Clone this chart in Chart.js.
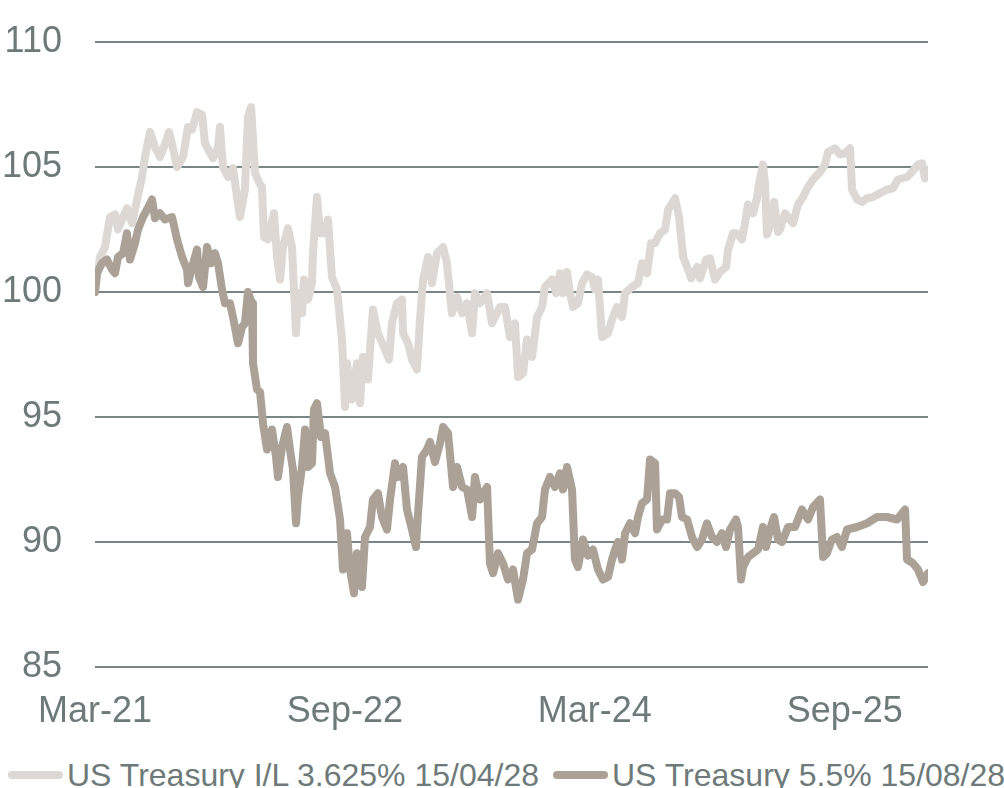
<!DOCTYPE html>
<html>
<head>
<meta charset="utf-8">
<script src="https://cdn.jsdelivr.net/npm/chart.js@4.4.1/dist/chart.umd.min.js"></script>
<style>
  html, body { margin: 0; padding: 0; background: #fff; overflow: hidden; }
  #page { position: relative; width: 1004px; height: 788px; overflow: hidden; }
  #box { position: absolute; left: 0; top: 0; width: 1004px; height: 740px; }
  #legend {
    position: absolute; left: 8px; top: 759px;
    display: flex; align-items: center; white-space: nowrap;
    font-family: "Liberation Sans", Arial, sans-serif;
    font-size: 32px; line-height: 32px; color: #6e7a79;
  }
  .item { display: flex; align-items: center; margin-right: 14px; }
  .swatch { width: 55px; height: 8px; border-radius: 4px; margin-right: 4px; }
</style>
</head>
<body>
<div id="page">
  <div id="box"><canvas id="chart"></canvas></div>
  <div id="legend"></div>
</div>
<script>
// months since Mar-21 for each reading
const tickMonths = [0, 18, 36, 54];
const tickLabels = ['Mar-21', 'Sep-22', 'Mar-24', 'Sep-25'];

const ilName = 'US Treasury I/L 3.625% 15/04/28';
const ilMonths = [0, 0.36, 0.72, 1.08, 1.44, 1.66, 2.02, 2.30, 2.67, 3.03,
  3.39, 3.60, 3.96, 4.32, 4.68, 5.04, 5.33, 5.62, 5.91, 6.34,
  6.70, 6.99, 7.35, 7.71, 7.92, 8.50, 8.86, 9.00, 9.22, 9.58,
  9.94, 10.23, 10.44, 10.80, 11.02, 11.24, 11.53, 11.89, 12.03, 12.17,
  12.46, 12.89, 13.11, 13.33, 13.54, 13.90, 14.19, 14.48, 14.62, 14.91,
  15.05, 15.34, 15.63, 15.70, 15.99, 16.21, 16.57, 16.78, 17.07, 17.43,
  17.79, 18.01, 18.15, 18.51, 18.87, 19.09, 19.30, 19.66, 20.02, 20.38,
  20.89, 21.18, 21.39, 21.75, 22.11, 22.19, 22.55, 22.83, 23.19, 23.41,
  23.63, 23.99, 24.27, 24.63, 25.07, 25.35, 25.71, 26.08, 26.44, 26.80,
  27.16, 27.37, 27.73, 28.24, 28.60, 29.17, 29.53, 29.89, 30.25, 30.47,
  30.83, 31.12, 31.48, 31.84, 32.20, 32.41, 32.92, 33.21, 33.49, 33.71,
  34.00, 34.21, 34.43, 34.79, 35.08, 35.44, 35.80, 36.02, 36.23, 36.52,
  36.95, 37.24, 37.60, 37.96, 38.18, 38.68, 39.11, 39.40, 39.76, 40.05,
  40.34, 40.70, 41.06, 41.28, 41.78, 42.07, 42.36, 42.65, 42.94, 43.37,
  43.58, 44.02, 44.30, 44.66, 45.02, 45.45, 45.60, 45.96, 46.24, 46.60,
  46.82, 47.04, 47.40, 47.68, 47.83, 48.11, 48.26, 48.40, 48.69, 48.91,
  49.20, 49.34, 49.70, 50.28, 50.64, 51.00, 51.36, 51.72, 52.22, 52.58,
  52.80, 53.30, 53.66, 54.02, 54.38, 54.53, 54.89, 55.25, 55.61, 56.04,
  56.54, 57.05, 57.48, 57.84, 58.49, 58.92, 59.28, 59.57, 59.78, 60.0];
const ilPrices = [100.0, 101.4, 101.8, 103.0, 103.1, 102.5, 103.0, 103.35, 102.75, 103.7,
  104.6, 105.4, 106.4, 105.8, 105.4, 105.9, 106.4, 105.75, 105.0, 105.4,
  106.6, 106.5, 107.2, 107.1, 105.95, 105.35, 105.8, 106.6, 105.0, 104.6,
  104.95, 103.8, 103.0, 104.1, 107.0, 107.4, 104.75, 104.3, 104.2, 102.2,
  102.1, 103.15, 101.4, 100.5, 101.8, 102.55, 101.8, 98.35, 99.95, 99.15,
  100.5, 99.7, 100.35, 101.55, 103.8, 102.35, 102.35, 102.9, 100.6, 100.1,
  98.1, 95.4, 97.15, 95.7, 97.15, 95.55, 97.4, 96.5, 99.3, 98.35,
  97.7, 97.3, 98.75, 99.55, 99.7, 98.35, 97.95, 97.3, 96.9, 98.9,
  100.5, 101.4, 100.35, 101.55, 101.8, 101.15, 99.15, 99.8, 99.15, 99.55,
  98.35, 99.95, 99.55, 99.95, 98.75, 99.4, 99.4, 98.2, 98.75, 96.6,
  96.75, 98.1, 97.4, 99.0, 99.4, 100.2, 100.5, 99.95, 100.75, 99.95,
  100.8, 99.95, 99.4, 99.55, 100.35, 100.7, 100.6, 100.1, 100.5, 98.2,
  98.35, 98.9, 99.4, 99.0, 99.95, 100.2, 100.35, 101.15, 100.75, 101.95,
  101.95, 102.35, 102.5, 103.3, 103.75, 103.0, 101.4, 101.0, 100.55, 101.0,
  100.55, 101.3, 101.35, 100.5, 100.8, 101.0, 101.7, 102.35, 102.35, 102.1,
  102.75, 103.5, 103.15, 103.75, 104.35, 105.1, 104.35, 102.3, 102.75, 103.6,
  102.4, 102.5, 103.15, 102.75, 103.5, 103.8, 104.2, 104.5, 104.8, 105.1,
  105.6, 105.75, 105.5, 105.55, 105.75, 104.1, 103.7, 103.6, 103.75, 103.8,
  103.95, 104.1, 104.15, 104.5, 104.6, 104.85, 105.1, 105.15, 104.55, 104.9];

const nomName = 'US Treasury 5.5% 15/08/28';
const nomMonths = [0, 0.14, 0.50, 0.86, 1.22, 1.44, 1.66, 2.02, 2.30, 2.52,
  2.88, 3.10, 3.46, 3.75, 4.11, 4.32, 4.68, 5.04, 5.55, 5.91,
  6.27, 6.63, 6.70, 6.99, 7.35, 7.49, 7.78, 8.07, 8.36, 8.64,
  8.86, 9.15, 9.36, 9.72, 9.94, 10.30, 10.59, 10.80, 11.02, 11.31,
  11.38, 11.67, 11.89, 12.10, 12.39, 12.75, 13.04, 13.18, 13.47, 13.83,
  14.12, 14.26, 14.48, 14.62, 14.91, 15.13, 15.34, 15.63, 15.77, 15.99,
  16.28, 16.57, 16.93, 17.29, 17.65, 17.86, 18.15, 18.37, 18.66, 18.87,
  19.23, 19.45, 19.81, 20.02, 20.38, 20.67, 21.03, 21.25, 21.61, 21.83,
  22.19, 22.47, 22.83, 23.12, 23.27, 23.55, 23.91, 24.13, 24.49, 24.85,
  25.07, 25.43, 25.79, 26.08, 26.44, 26.80, 27.16, 27.37, 27.73, 28.24,
  28.45, 28.67, 29.03, 29.39, 29.75, 30.11, 30.47, 30.83, 31.12, 31.48,
  31.84, 32.20, 32.41, 32.77, 33.13, 33.49, 33.71, 34.00, 34.36, 34.57,
  34.79, 35.15, 35.51, 35.87, 36.23, 36.59, 36.95, 37.24, 37.46, 37.67,
  37.96, 38.18, 38.54, 38.90, 39.11, 39.40, 39.76, 39.98, 40.34, 40.48,
  40.84, 41.20, 41.42, 41.78, 42.07, 42.28, 42.65, 43.00, 43.37, 43.72,
  44.08, 44.44, 44.80, 45.16, 45.45, 45.74, 46.17, 46.32, 46.53, 46.68,
  47.04, 47.40, 47.76, 48.11, 48.33, 48.62, 48.91, 49.20, 49.49, 49.92,
  50.42, 50.92, 51.36, 51.72, 52.22, 52.44, 52.72, 53.08, 53.44, 53.80,
  54.17, 54.89, 55.61, 56.33, 57.05, 57.77, 58.35, 58.49, 58.92, 59.28,
  59.64, 60.0];
const nomPrices = [100.0, 100.75, 101.15, 101.3, 100.9, 100.75, 101.4, 101.55, 102.35, 101.3,
  101.95, 102.5, 103.0, 103.3, 103.7, 102.95, 103.15, 102.9, 103.0, 102.1,
  101.4, 100.9, 100.35, 101.0, 101.7, 100.6, 100.2, 101.8, 101.15, 101.55,
  101.15, 100.1, 99.55, 99.55, 99.0, 97.95, 98.6, 98.75, 100.0, 99.55,
  97.15, 96.1, 96.0, 94.75, 93.7, 94.5, 93.4, 92.6, 93.8, 94.6,
  93.4, 92.9, 90.75, 91.8, 93.0, 94.5, 93.0, 93.15, 95.3, 95.55,
  94.2, 94.35, 92.75, 92.2, 90.9, 88.9, 90.35, 88.9, 87.95, 89.55,
  88.2, 90.2, 90.6, 91.7, 91.95, 91.0, 90.5, 91.7, 93.15, 92.6,
  93.0, 91.3, 90.5, 89.8, 91.15, 93.4, 93.7, 94.0, 93.2, 93.95,
  94.6, 94.35, 92.2, 93.0, 92.2, 92.1, 91.0, 92.6, 91.7, 92.2,
  89.15, 88.75, 89.55, 89.15, 88.5, 88.9, 87.7, 88.5, 89.55, 89.7,
  90.75, 91.0, 92.1, 92.6, 92.2, 92.75, 92.1, 93.0, 92.1, 89.3,
  89.0, 90.1, 89.45, 89.7, 88.9, 88.5, 88.6, 89.3, 89.7, 90.0,
  89.3, 90.35, 90.75, 90.35, 91.0, 91.55, 91.7, 93.3, 93.15, 90.5,
  90.9, 90.9, 91.95, 91.95, 91.8, 91.0, 90.9, 90.2, 89.8, 90.1,
  90.75, 90.2, 90.0, 90.35, 89.8, 90.5, 90.9, 90.6, 88.5, 89.0,
  89.4, 89.55, 89.7, 90.6, 89.8, 90.5, 91.0, 90.1, 90.0, 90.6,
  90.6, 91.3, 90.9, 91.4, 91.7, 89.4, 89.55, 90.1, 90.2, 89.8,
  90.5, 90.6, 90.75, 91.0, 91.0, 90.9, 91.3, 89.3, 89.15, 88.9,
  88.4, 88.75];

const textColor = '#6e7a79';
const axisFont = { family: '"Liberation Sans", Arial, sans-serif', size: 36 };

function toPoints(xs, ys) {
  return xs.map((x, i) => ({ x: x, y: ys[i] }));
}

const chart = new Chart(document.getElementById('chart'), {
  type: 'line',
  data: {
    datasets: [
      { label: ilName, data: toPoints(ilMonths, ilPrices), borderColor: '#ddd8d3', backgroundColor: '#ddd8d3', order: 1 },
      { label: nomName, data: toPoints(nomMonths, nomPrices), borderColor: '#aca197', backgroundColor: '#aca197', order: 0 }
    ]
  },
  options: {
    responsive: true,
    maintainAspectRatio: false,
    animation: false,
    elements: {
      point: { radius: 0 },
      line: { borderWidth: 8, borderJoinStyle: 'round', borderCapStyle: 'round', tension: 0 }
    },
    layout: { padding: { top: 42, right: 76, bottom: 0, left: 4 } },
    plugins: {
      legend: { display: false },
      tooltip: { enabled: false }
    },
    scales: {
      x: {
        type: 'linear',
        min: 0,
        max: 60,
        grid: { display: false },
        border: { display: false },
        afterBuildTicks: axis => { axis.ticks = tickMonths.map(v => ({ value: v })); },
        afterFit: axis => { axis.height = 73; },
        ticks: {
          padding: 15,
          autoSkip: false,
          maxRotation: 0,
          color: textColor,
          font: axisFont,
          callback: v => tickLabels[tickMonths.indexOf(v)]
        }
      },
      y: {
        min: 85,
        max: 110,
        border: { display: false },
        // fixed axis width; top label may overhang into the padding
        afterFit: axis => { axis.width = 91; axis.paddingTop = 0; axis.paddingBottom = 0; },
        grid: { color: '#7a8685', lineWidth: 2, drawTicks: false },
        ticks: { stepSize: 5, padding: 33, color: textColor, font: axisFont }
      }
    }
  }
});

// legend row under the canvas, built from the datasets
const legendEl = document.getElementById('legend');
chart.data.datasets.forEach(ds => {
  const item = document.createElement('span');
  item.className = 'item';
  const swatch = document.createElement('span');
  swatch.className = 'swatch';
  swatch.style.background = ds.borderColor;
  item.appendChild(swatch);
  item.appendChild(document.createTextNode(ds.label));
  legendEl.appendChild(item);
});
</script>
</body>
</html>
